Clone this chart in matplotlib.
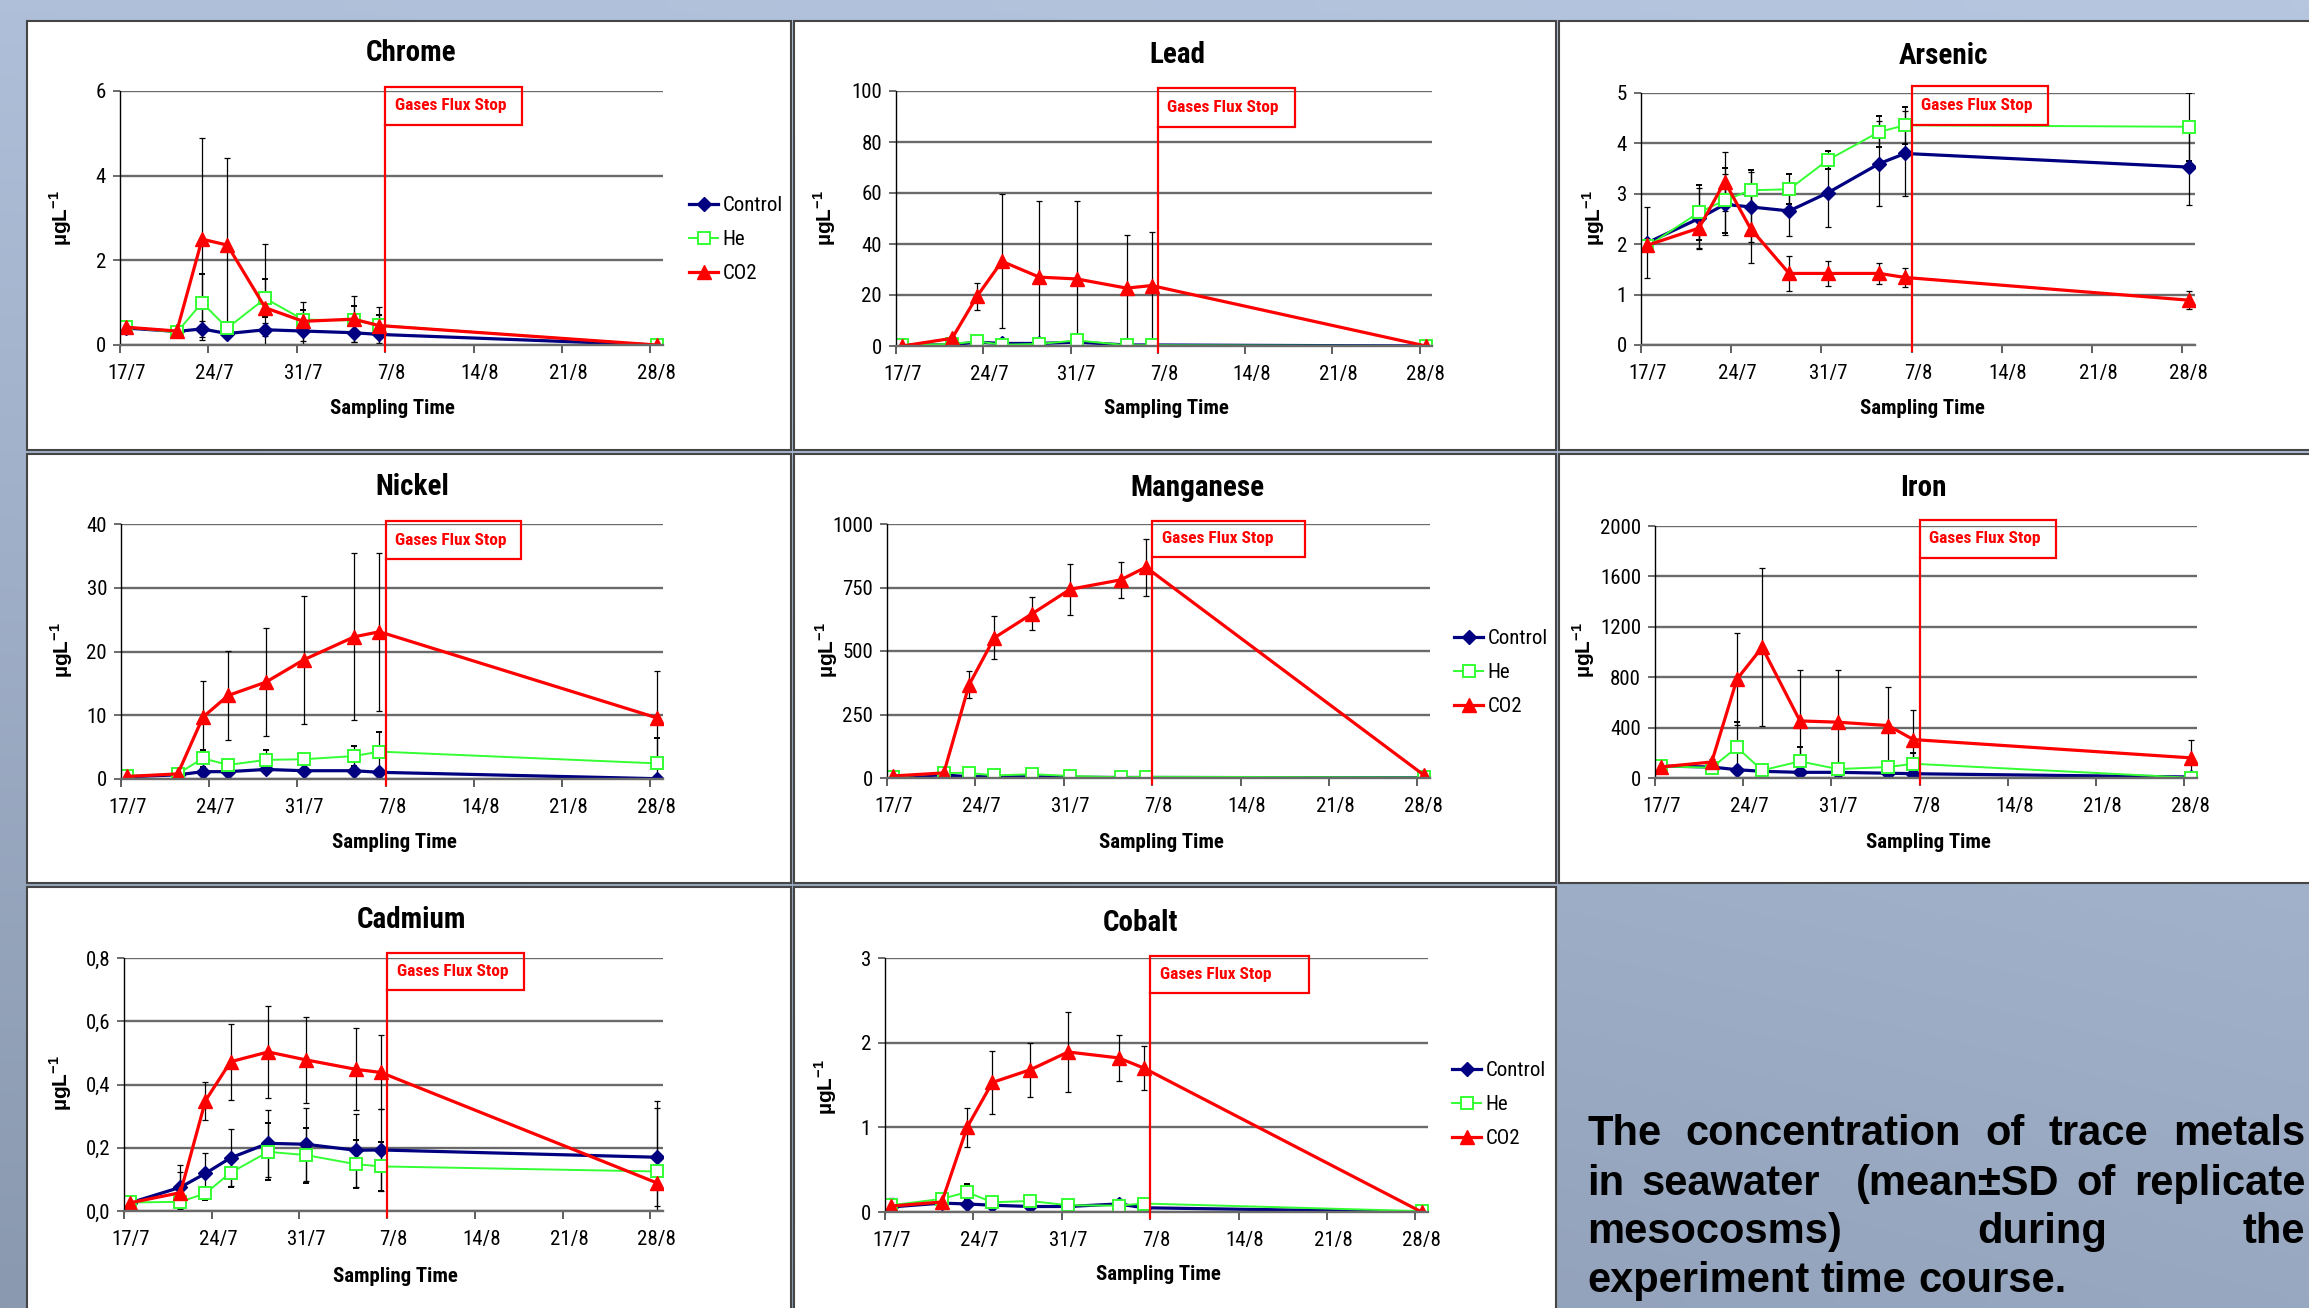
import numpy as np
import pandas as pd
import matplotlib
matplotlib.use('Agg')
import matplotlib.pyplot as plt
from matplotlib.patches import Rectangle
from matplotlib.lines import Line2D
import matplotlib.transforms as mtransforms
from matplotlib import font_manager as fm

# ---------------- data ----------------
sample_dates = ['17/7', '21/7', '23/7', '25/7', '28/7', '31/7', '4/8', '6/8', '28/8']
tick_dates = ['17/7', '24/7', '31/7', '7/8', '14/8', '21/8', '28/8']
flux_stop_date = '7/8'
series_names = ['Control', 'He', 'CO2']

chrome_control = [0.40, 0.32, 0.38, 0.27, 0.36, 0.33, 0.29, 0.25, 0.0]
chrome_control_sd = [0.05, 0.05, 0.18, 0.05, 0.15, 0.30, 0.22, 0.20, 0.02]
chrome_he = [0.42, 0.30, 1.00, 0.40, 1.10, 0.60, 0.58, 0.47, 0.0]
chrome_he_sd = [0.05, 0.05, 0.67, 0.05, 0.45, 0.23, 0.33, 0.23, 0.02]
chrome_co2 = [0.42, 0.33, 2.50, 2.36, 0.88, 0.56, 0.61, 0.46, 0.0]
chrome_co2_sd = [0.05, 0.05, 2.38, 2.05, 1.50, 0.46, 0.54, 0.44, 0.02]

lead_control = [0.3, 0.5, 1.5, 1.0, 1.0, 1.5, 0.4, 0.4, 0.0]
lead_control_sd = [0.3, 0.5, 1.0, 1.0, 1.0, 2.0, 0.5, 0.5, 0.2]
lead_he = [0.3, 0.8, 1.8, 0.5, 0.8, 2.2, 0.3, 0.3, 0.0]
lead_he_sd = [0.3, 1.0, 1.0, 0.5, 0.5, 2.2, 0.3, 0.3, 0.2]
lead_co2 = [0.0, 3.0, 19.5, 33.2, 27.0, 26.3, 22.7, 23.7, 0.0]
lead_co2_sd = [0.3, 1.0, 5.2, 26.3, 29.8, 30.5, 21.0, 21.2, 0.2]

arsenic_control = [2.03, 2.51, 2.79, 2.74, 2.66, 3.02, 3.60, 3.80, 3.53]
arsenic_control_sd = [0.70, 0.60, 0.60, 0.70, 0.50, 0.68, 0.85, 0.85, 0.75]
arsenic_he = [1.96, 2.63, 2.87, 3.07, 3.09, 3.67, 4.23, 4.36, 4.33]
arsenic_he_sd = [0.10, 0.55, 0.65, 0.40, 0.30, 0.18, 0.31, 0.37, 0.67]
arsenic_co2 = [1.98, 2.32, 3.24, 2.31, 1.42, 1.42, 1.42, 1.34, 0.89]
arsenic_co2_sd = [0.05, 0.40, 0.58, 0.68, 0.35, 0.24, 0.20, 0.19, 0.18]

nickel_control = [0.35, 0.65, 1.15, 1.15, 1.5, 1.3, 1.3, 1.05, 0.05]
nickel_control_sd = [0.2, 0.3, 0.6, 0.6, 0.5, 0.5, 0.6, 0.5, 0.1]
nickel_he = [0.45, 0.8, 3.25, 2.2, 3.0, 3.1, 3.6, 4.3, 2.45]
nickel_he_sd = [0.2, 0.4, 1.3, 0.6, 1.6, 0.5, 1.6, 3.0, 4.0]
nickel_co2 = [0.4, 0.8, 9.7, 13.1, 15.2, 18.7, 22.3, 23.1, 9.6]
nickel_co2_sd = [0.2, 0.4, 5.6, 7.0, 8.5, 10.0, 13.1, 12.4, 7.3]

manganese_control = [5, 12, 5, 5, 5, 3, 2, 2, 1]
manganese_control_sd = [3, 5, 5, 5, 5, 3, 2, 2, 1]
manganese_he = [5, 20, 20, 10, 15, 8, 3, 5, 2]
manganese_he_sd = [5, 8, 10, 8, 8, 5, 3, 3, 2]
manganese_co2 = [8, 20, 367, 552, 647, 743, 780, 830, 12]
manganese_co2_sd = [5, 8, 53, 85, 66, 100, 70, 112, 5]

iron_control = [95, 87, 66, 53, 45, 45, 38, 34, 8]
iron_control_sd = [20, 20, 30, 20, 20, 20, 15, 15, 5]
iron_he = [92, 82, 243, 61, 132, 71, 87, 113, 2]
iron_he_sd = [20, 20, 200, 30, 115, 30, 20, 85, 5]
iron_co2 = [88, 127, 784, 1037, 453, 443, 416, 305, 160]
iron_co2_sd = [20, 20, 367, 628, 405, 417, 305, 232, 145]

cadmium_control = [0.026, 0.075, 0.119, 0.168, 0.214, 0.211, 0.192, 0.193, 0.170]
cadmium_control_sd = [0.01, 0.07, 0.063, 0.09, 0.105, 0.115, 0.115, 0.13, 0.155]
cadmium_he = [0.027, 0.029, 0.056, 0.121, 0.187, 0.177, 0.148, 0.141, 0.125]
cadmium_he_sd = [0.01, 0.02, 0.02, 0.045, 0.09, 0.087, 0.076, 0.078, 0.05]
cadmium_co2 = [0.026, 0.058, 0.349, 0.472, 0.503, 0.478, 0.448, 0.438, 0.089]
cadmium_co2_sd = [0.01, 0.065, 0.060, 0.120, 0.145, 0.137, 0.130, 0.117, 0.26]

cobalt_control = [0.06, 0.105, 0.095, 0.08, 0.065, 0.065, 0.095, 0.05, 0.0]
cobalt_control_sd = [0.11, 0.05, 0.04, 0.04, 0.03, 0.03, 0.06, 0.04, 0.01]
cobalt_he = [0.08, 0.155, 0.235, 0.115, 0.13, 0.08, 0.075, 0.10, 0.01]
cobalt_he_sd = [0.05, 0.05, 0.09, 0.04, 0.05, 0.03, 0.03, 0.03, 0.01]
cobalt_co2 = [0.07, 0.118, 1.0, 1.53, 1.68, 1.89, 1.82, 1.70, 0.0]
cobalt_co2_sd = [0.05, 0.03, 0.23, 0.37, 0.32, 0.47, 0.27, 0.26, 0.01]

caption_lines = ['The concentration of trace metals',
                 'in seawater  (mean±SD of replicate',
                 'mesocosms) during the',
                 'experiment time course.']

# ---------------- fonts ----------------
W, H, DPI = 2309, 1308, 100
REG = 'Liberation Sans'
_entries = fm.fontManager.ttflist
_names = {f.name for f in _entries}
NARROW, STRETCH, SCALE = None, 'normal', 1.0
for cand in ['Liberation Sans Narrow', 'Arial Narrow', 'Roboto Condensed', 'Open Sans Condensed',
             'Noto Sans Condensed', 'Noto Sans Display Condensed', 'Noto Sans SemiCondensed']:
    if cand in _names:
        NARROW = cand
        break
if NARROW is None:
    for fam in ['Roboto', 'Noto Sans', 'Open Sans', 'Liberation Sans']:
        hits = [f for f in _entries if f.name == fam and 'condensed' in str(f.stretch)]
        if hits:
            NARROW, STRETCH = fam, hits[0].stretch
            break
if NARROW is None:
    NARROW, SCALE = REG, 0.86

plt.rcParams['font.family'] = [NARROW, REG, 'DejaVu Sans']
plt.rcParams['font.stretch'] = STRETCH
plt.rcParams['mathtext.fontset'] = 'custom'
plt.rcParams['mathtext.bf'] = REG + ':bold'
plt.rcParams['mathtext.rm'] = REG + ':bold'

FS_TICK = 15 * SCALE
FS_TITLE = 21 * SCALE
FS_XLAB = 15 * SCALE
FS_BOX = 12.5 * SCALE

C_CTRL, C_HE, C_CO2 = '#000080', '#33ff33', '#ff0000'
GRID = '#6a6a6a'


def day(s):
    d, m = s.split('/')
    return (pd.Timestamp(2010, int(m), int(d)) - pd.Timestamp(2010, 7, 17)).days


xs = np.array([day(s) for s in sample_dates]) + 0.5
tick_days = np.array([day(s) for s in tick_dates])
stop_day = day(flux_stop_date)

panels = [
    dict(title='Chrome', data=(chrome_control, chrome_control_sd, chrome_he, chrome_he_sd, chrome_co2, chrome_co2_sd),
         ylim=6, step=2, fmt=lambda v: f'{v:.0f}', ax=(120, 663, 91, 345), tpos=(411, 53), xlab=(392, 409),
         ylab=(61, 218), leg=(689, 239.5), box=(10.8, 1.017, 0.866)),
    dict(title='Lead', data=(lead_control, lead_control_sd, lead_he, lead_he_sd, lead_co2, lead_co2_sd),
         ylim=100, step=20, fmt=lambda v: f'{v:.0f}', ax=(896, 1432, 91, 346), tpos=(1177, 55), xlab=(1166, 409),
         ylab=(825, 218), leg=None, box=(11.0, 1.010, 0.860)),
    dict(title='Arsenic', data=(arsenic_control, arsenic_control_sd, arsenic_he, arsenic_he_sd, arsenic_co2, arsenic_co2_sd),
         ylim=5, step=1, fmt=lambda v: f'{v:.0f}', ax=(1641, 2195, 93, 345), tpos=(1943, 56), xlab=(1922, 409),
         ylab=(1594, 218), leg=None, box=(10.6, 1.026, 0.872)),
    dict(title='Nickel', data=(nickel_control, nickel_control_sd, nickel_he, nickel_he_sd, nickel_co2, nickel_co2_sd),
         ylim=40, step=10, fmt=lambda v: f'{v:.0f}', ax=(121, 663, 524, 779), tpos=(412, 487), xlab=(394, 842),
         ylab=(62, 650), leg=None, box=(10.7, 1.010, 0.863)),
    dict(title='Manganese', data=(manganese_control, manganese_control_sd, manganese_he, manganese_he_sd, manganese_co2, manganese_co2_sd),
         ylim=1000, step=250, fmt=lambda v: f'{v:.0f}', ax=(887, 1430, 524, 778), tpos=(1197, 488), xlab=(1161, 842),
         ylab=(827, 650), leg=(1454, 672.5), box=(12.1, 1.013, 0.869)),
    dict(title='Iron', data=(iron_control, iron_control_sd, iron_he, iron_he_sd, iron_co2, iron_co2_sd),
         ylim=2000, step=400, fmt=lambda v: f'{v:.0f}', ax=(1655, 2197, 526, 778), tpos=(1923, 488), xlab=(1928, 843),
         ylab=(1584, 650), leg=None, box=(10.8, 1.025, 0.875)),
    dict(title='Cadmium', data=(cadmium_control, cadmium_control_sd, cadmium_he, cadmium_he_sd, cadmium_co2, cadmium_co2_sd),
         ylim=0.8, step=0.2, fmt=lambda v: f'{v:.1f}'.replace('.', ','), ax=(124, 663, 958, 1211), tpos=(411, 920),
         xlab=(395, 1276), ylab=(61, 1083), leg=None, box=(10.9, 1.020, 0.872)),
    dict(title='Cobalt', data=(cobalt_control, cobalt_control_sd, cobalt_he, cobalt_he_sd, cobalt_co2, cobalt_co2_sd),
         ylim=3, step=1, fmt=lambda v: f'{v:.0f}', ax=(885, 1428, 958, 1212), tpos=(1141, 923), xlab=(1158, 1275),
         ylab=(826, 1087), leg=(1452, 1105), box=(12.6, 1.007, 0.862)),
]

panel_rects = [(27, 21, 791, 450), (794, 21, 1556, 450), (1559, 21, 2340, 450),
               (27, 454, 791, 883), (794, 454, 1556, 883), (1559, 454, 2340, 883),
               (27, 887, 791, 1340), (794, 887, 1556, 1340)]

fig = plt.figure(figsize=(W / DPI, H / DPI), dpi=DPI)


def fx(x):
    return x / W


def fy(y):
    return 1 - y / H


# background gradient
bg = fig.add_axes([0, 0, 1, 1], zorder=-5)
tl, tr = np.array([0xaf, 0xbf, 0xd9]) / 255, np.array([0xb6, 0xc6, 0xdf]) / 255
bl, br = np.array([0x8a, 0x99, 0xaf]) / 255, np.array([0x98, 0xa8, 0xc1]) / 255
u = np.linspace(0, 1, 64)[None, :, None]
v = np.linspace(0, 1, 64)[:, None, None]
grad = (1 - v) * ((1 - u) * tl + u * tr) + v * ((1 - u) * bl + u * br)
bg.imshow(grad, aspect='auto', extent=[0, 1, 0, 1], interpolation='bilinear')
bg.axis('off')

for (x0, y0, x1, y1) in panel_rects:
    fig.add_artist(Rectangle((fx(x0), fy(y1)), (x1 - x0) / W, (y1 - y0) / H, transform=fig.transFigure,
                             facecolor='white', edgecolor='#454545', lw=1.5, zorder=-1))

styles = [
    dict(color=C_CTRL, lw=2.3, marker='D', ms=7.5, mfc=C_CTRL, mec=C_CTRL),
    dict(color=C_HE, lw=1.4, marker='s', ms=9, mfc='white', mec=C_HE, mew=1.4),
    dict(color=C_CO2, lw=2.3, marker='^', ms=9.5, mfc=C_CO2, mec=C_CO2),
]

for p in panels:
    l, r, t, b = p['ax']
    ax = fig.add_axes([fx(l), fy(b), (r - l) / W, (b - t) / H])
    ax.set_facecolor('none')
    vals = p['data']
    for k, st in enumerate(styles):
        ax.errorbar(xs, vals[2 * k], yerr=vals[2 * k + 1], ecolor='black', elinewidth=0.9, capsize=2.5,
                    capthick=0.9, **st)
    ax.set_xlim(0, tick_days[-1] + 1)
    ax.set_ylim(0, p['ylim'])
    yt = np.arange(0, p['ylim'] + p['step'] / 2, p['step'])
    ax.set_yticks(yt)
    ax.set_yticklabels([p['fmt'](v) for v in yt])
    ax.yaxis.grid(True, color=GRID, lw=1.7)
    ax.set_axisbelow(True)
    for s in ('top', 'right'):
        ax.spines[s].set_visible(False)
    ax.spines['left'].set_color('black')
    ax.spines['left'].set_linewidth(1.0)
    ax.spines['bottom'].set_color(GRID)
    ax.spines['bottom'].set_linewidth(1.7)
    ax.tick_params(axis='y', length=5, width=1.4, color=GRID, pad=5, labelsize=FS_TICK)
    ax.set_xticks(tick_days)
    ax.set_xticklabels([])
    ax.tick_params(axis='x', which='major', length=5.5, width=1.1, color='#333333')
    ax.set_xticks(tick_days + 0.5, minor=True)
    ax.set_xticklabels(tick_dates, minor=True)
    ax.tick_params(axis='x', which='minor', length=0, pad=14, labelsize=FS_TICK)

    # gases flux stop marker
    bw, btop, bbot = p['box']
    trans = ax.get_xaxis_transform()
    ax.plot([stop_day, stop_day], [-0.022, bbot], color=C_CO2, lw=1.6, transform=trans, clip_on=False, zorder=5)
    ax.add_patch(Rectangle((stop_day, bbot), bw, btop - bbot, transform=trans, fill=False, edgecolor=C_CO2,
                           lw=1.6, clip_on=False, zorder=5))
    tt = mtransforms.offset_copy(trans, fig=fig, x=7, y=0, units='points')
    ax.text(stop_day, (btop + bbot) / 2, 'Gases Flux Stop', transform=tt, color=C_CO2, fontsize=FS_BOX,
            fontweight='bold', ha='left', va='center', zorder=6)

    fig.text(fx(p['tpos'][0]), fy(p['tpos'][1]), p['title'], fontsize=FS_TITLE, fontweight='bold',
             ha='center', va='center')
    fig.text(fx(p['xlab'][0]), fy(p['xlab'][1]), 'Sampling Time', fontsize=FS_XLAB, fontweight='bold',
             ha='center', va='center')
    fig.text(fx(p['ylab'][0]), fy(p['ylab'][1]), r'µgL$^{\mathbf{-1}}$', family=REG, stretch='normal',
             fontsize=15, fontweight='bold', rotation=90, ha='center', va='center')

    if p['leg'] is not None:
        handles = [Line2D([], [], **st) for st in styles]
        fig.legend(handles, series_names, loc='center left', bbox_to_anchor=(fx(p['leg'][0]), fy(p['leg'][1])),
                   frameon=False, fontsize=FS_TICK, handlelength=1.4, handletextpad=0.2,
                   labelspacing=0.72 / SCALE, borderpad=0, borderaxespad=0, numpoints=1)

# justified caption
renderer = fig.canvas.get_renderer()
left, right = 1587, 2305
baselines = [1145, 1195, 1243, 1292]
kw = dict(family=REG, stretch='normal', fontsize=30, fontweight='bold', va='baseline', ha='left')
for i, (line, yb) in enumerate(zip(caption_lines, baselines)):
    words = line.split(' ')
    texts = [fig.text(0, fy(yb), w, **kw) for w in words]
    widths = [t.get_window_extent(renderer).width if w else 0 for t, w in zip(texts, words)]
    if i < len(caption_lines) - 1:
        gap = (right - left - sum(widths)) / (len(words) - 1)
    else:
        sp = fig.text(0, 0, 'a a', **kw)
        sa = fig.text(0, 0, 'aa', **kw)
        gap = sp.get_window_extent(renderer).width - sa.get_window_extent(renderer).width
        sp.remove()
        sa.remove()
    x = left
    for t, wdt in zip(texts, widths):
        t.set_x(fx(x))
        x += wdt + gap

fig.savefig('out.png', dpi=DPI)
